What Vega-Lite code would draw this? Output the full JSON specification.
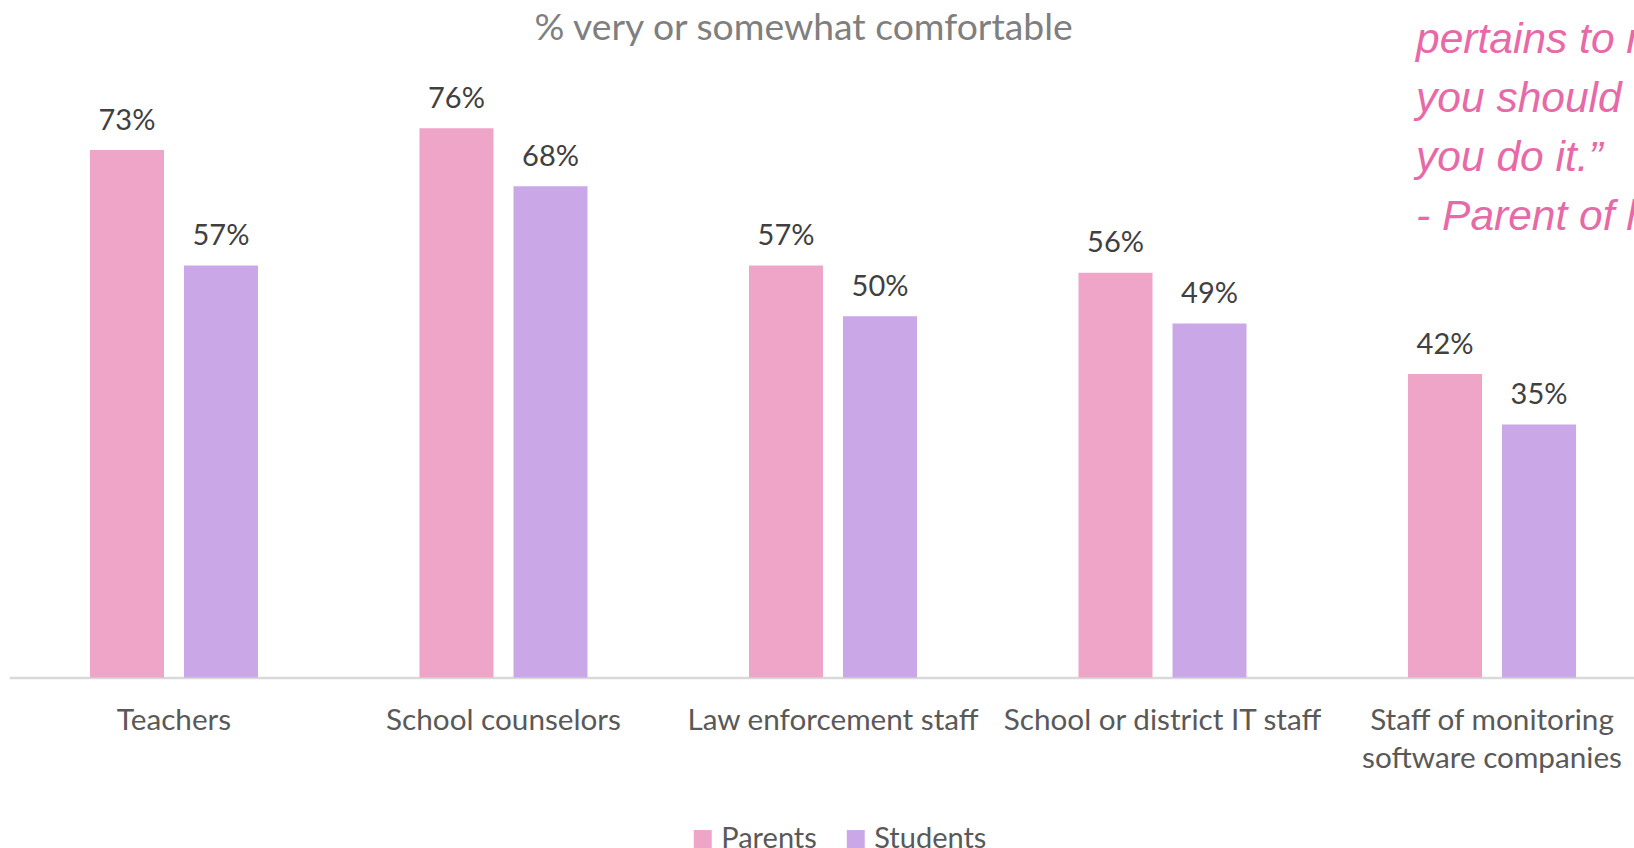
{
  "$schema": "https://vega.github.io/schema/vega-lite/v6.json",
  "usermeta": {"embedOptions": {"actions": false}},
  "width": 1624.75,
  "height": 614.2,
  "autosize": {"type": "none"},
  "padding": {"left": 9.25, "top": 63.3, "right": 0, "bottom": 170.5},
  "background": "white",
  "config": {"view": {"stroke": null}, "font": "Lato"},
  "title": {
    "text": "% very or somewhat comfortable",
    "font": "Lato",
    "fontSize": 37.3,
    "fontWeight": "normal",
    "color": "#7F7F7F",
    "anchor": "middle",
    "frame": "group",
    "baseline": "alphabetic",
    "offset": -57.5,
    "dx": -18
  },
  "data": {
    "values": [
      {"cat": "Teachers", "group": "Parents", "value": 0.73},
      {"cat": "Teachers", "group": "Students", "value": 0.57},
      {"cat": "School counselors", "group": "Parents", "value": 0.76},
      {"cat": "School counselors", "group": "Students", "value": 0.68},
      {"cat": "Law enforcement staff", "group": "Parents", "value": 0.57},
      {"cat": "Law enforcement staff", "group": "Students", "value": 0.50},
      {"cat": "School or district IT staff", "group": "Parents", "value": 0.56},
      {"cat": "School or district IT staff", "group": "Students", "value": 0.49},
      {"cat": "Staff of monitoring software companies", "group": "Parents", "value": 0.42},
      {"cat": "Staff of monitoring software companies", "group": "Students", "value": 0.35}
    ]
  },
  "layer": [
    {
      "mark": {"type": "bar"},
      "encoding": {
        "x": {
          "field": "cat",
          "type": "nominal",
          "sort": null,
          "scale": {"paddingInner": 0.49014, "paddingOuter": 0.2105, "align": 0.582, "round": false},
          "axis": {
            "title": null,
            "ticks": false,
            "domainColor": "#D9D9D9",
            "domainWidth": 2.5,
            "labelFont": "Lato",
            "labelFontSize": 29.7,
            "labelColor": "#595959",
            "labelPadding": 28.5,
            "labelLineHeight": 38.5,
            "labelLimit": 0,
            "labelAngle": 0,
            "labelOverlap": false,
            "labelBaseline": "top",
            "labelExpr": "datum.label == 'Staff of monitoring software companies' ? ['Staff of monitoring', 'software companies'] : datum.label"
          }
        },
        "xOffset": {
          "field": "group",
          "type": "nominal",
          "sort": ["Parents", "Students"],
          "scale": {"paddingInner": 0.2128, "paddingOuter": 0, "round": false}
        },
        "y": {
          "field": "value",
          "type": "quantitative",
          "scale": {"domain": [0, 0.85], "nice": false, "zero": true},
          "axis": null
        },
        "color": {
          "field": "group",
          "type": "nominal",
          "scale": {"domain": ["Parents", "Students"], "range": ["#EEA5C8", "#CAA8E8"]},
          "legend": {
            "orient": "none",
            "direction": "horizontal",
            "legendX": 679,
            "legendY": 761,
            "title": null,
            "symbolType": "square",
            "symbolSize": 324,
            "symbolStrokeWidth": 0,
            "symbolOpacity": 1,
            "labelFont": "Lato",
            "labelFontSize": 29,
            "labelColor": "#595959",
            "labelOffset": 4,
            "columnPadding": 24,
            "padding": 0
          }
        }
      }
    },
    {
      "mark": {"type": "text", "baseline": "alphabetic", "dy": -20.5, "font": "Lato", "fontSize": 29, "color": "#404040"},
      "encoding": {
        "x": {"field": "cat", "type": "nominal", "sort": null},
        "xOffset": {"field": "group", "type": "nominal", "sort": ["Parents", "Students"]},
        "y": {"field": "value", "type": "quantitative", "scale": {"domain": [0, 0.85], "nice": false}},
        "text": {"field": "value", "type": "quantitative", "format": ".0%"}
      }
    },
    {
      "data": {"values": [{"quote": ["pertains to my", "you should", "you do it.\u201d", "- Parent of high"]}]},
      "mark": {
        "type": "text",
        "align": "left",
        "baseline": "alphabetic",
        "font": "Liberation Sans",
        "fontStyle": "italic",
        "fontSize": 42.5,
        "lineHeight": 58.9,
        "color": "#E769A7"
      },
      "encoding": {
        "x": {"datum": "Staff of monitoring software companies", "bandPosition": 0.048},
        "y": {"datum": 0.8638, "type": "quantitative", "scale": {"domain": [0, 0.85], "nice": false}},
        "text": {"field": "quote"}
      }
    }
  ]
}
